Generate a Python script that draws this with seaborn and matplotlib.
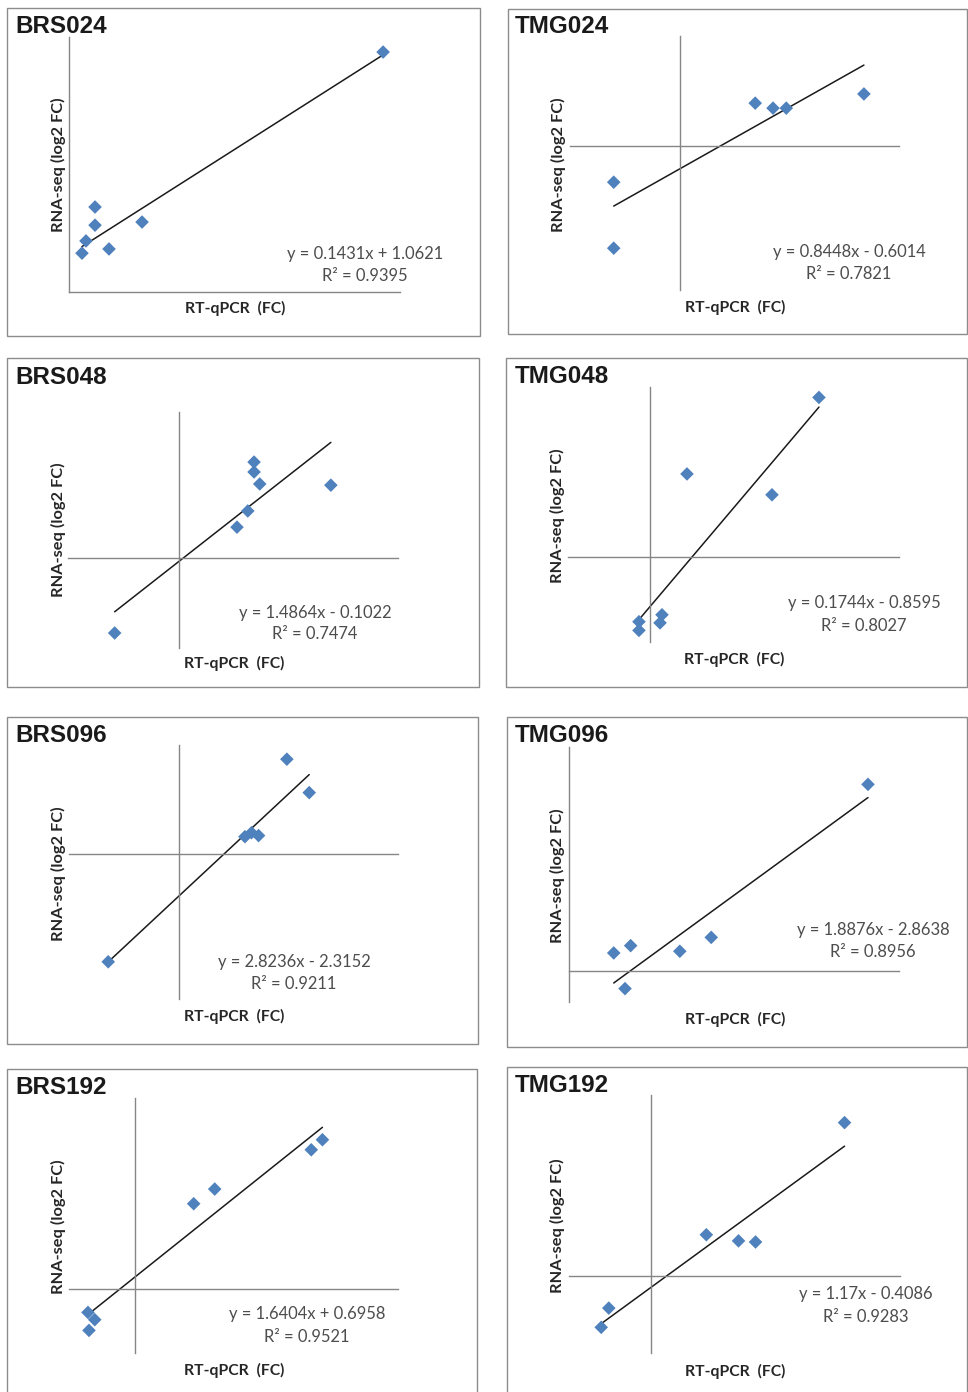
import matplotlib
matplotlib.use("Agg")
import matplotlib.pyplot as plt
from matplotlib.patches import Rectangle
import seaborn as sns

sns.set_theme(style="white")
plt.rcParams["font.family"] = ["Lato", "DejaVu Sans"]

# ---- data: RT-qPCR fold change vs RNA-seq log2 fold change ----
panel_names = ["BRS024", "TMG024", "BRS048", "TMG048",
               "BRS096", "TMG096", "BRS192", "TMG192"]

brs024_rtqpcr = [39.95, 3.31, 3.31, 2.16, 1.65, 5.09, 9.29]
brs024_rnaseq = [6.86, 2.43, 1.91, 1.46, 1.11, 1.23, 2.00]
tmg024_rtqpcr = [-1.15, -1.15, 1.31, 1.62, 1.85, 3.20]
tmg024_rnaseq = [-0.95, -2.67, 1.11, 0.98, 0.98, 1.35]
brs048_rtqpcr = [1.32, 1.32, 1.42, 2.67, 1.21, 1.02, -1.13]
brs048_rnaseq = [3.21, 2.88, 2.48, 2.44, 1.58, 1.04, -2.49]
tmg048_rtqpcr = [19.74, 4.32, 14.25, -1.29, -1.29, 1.40, 1.17]
tmg048_rnaseq = [2.75, 1.43, 1.07, -1.12, -1.27, -1.00, -1.14]
brs096_rtqpcr = [1.98, 2.39, 1.21, 1.33, 1.46, -1.30]
brs096_rnaseq = [5.29, 3.43, 0.98, 1.20, 1.04, -5.98]
tmg096_rtqpcr = [7.42, 1.11, 1.53, 2.75, 3.53, 1.39]
tmg096_rnaseq = [11.99, 1.16, 1.63, 1.27, 2.16, -1.13]
brs192_rtqpcr = [5.54, 5.21, 2.36, 1.74, -1.38, -1.18, -1.35]
brs192_rnaseq = [9.03, 8.42, 6.04, 5.15, -1.44, -1.88, -2.53]
tmg192_rtqpcr = [4.32, 1.23, 1.95, 2.33, -0.95, -1.12]
tmg192_rnaseq = [5.49, 1.47, 1.25, 1.21, -1.16, -1.85]

rtqpcr_values = [brs024_rtqpcr, tmg024_rtqpcr, brs048_rtqpcr, tmg048_rtqpcr,
                 brs096_rtqpcr, tmg096_rtqpcr, brs192_rtqpcr, tmg192_rtqpcr]
rnaseq_values = [brs024_rnaseq, tmg024_rnaseq, brs048_rnaseq, tmg048_rnaseq,
                 brs096_rnaseq, tmg096_rnaseq, brs192_rnaseq, tmg192_rnaseq]

# linear trend lines (slope, intercept, R^2)
slopes = [0.1431, 0.8448, 1.4864, 0.1744, 2.8236, 1.8876, 1.6404, 1.17]
intercepts = [1.0621, -0.6014, -0.1022, -0.8595, -2.3152, -2.8638, 0.6958, -0.4086]
r_squared = [0.9395, 0.7821, 0.7474, 0.8027, 0.9211, 0.8956, 0.9521, 0.9283]

# axis ranges
x_limits = [(0, 42.1), (-1.91, 3.81), (-1.95, 3.85), (-9.58, 29.09),
            (-2.02, 4.02), (0, 8.19), (-1.94, 7.77), (-1.84, 5.56)]
y_limits = [(0, 7.29), (-3.76, 2.86), (-2.99, 4.88), (-1.47, 2.93),
            (-8.05, 6.08), (-1.99, 14.39), (-3.90, 11.56), (-2.77, 6.48)]

# ---- layout (pixel units on a 968 x 1392 canvas) ----
W, H = 968, 1392
plot_areas = [(69, 400, 37, 292), (570, 899, 36, 290),
              (68, 398, 412, 648), (568, 899, 387, 642),
              (69, 398, 745, 999), (569, 899, 747, 1002),
              (69, 398, 1098, 1353), (569, 900, 1095, 1353)]
frames = [(7, 480, 8, 336), (508, 967, 9, 334),
          (7, 479, 358, 687), (506, 967, 358, 687),
          (7, 478, 717, 1044), (507, 967, 717, 1047),
          (7, 477, 1069, 1400), (507, 967, 1067, 1400)]
title_pos = [(15, 33), (515, 33), (15, 384), (515, 383),
             (15, 742), (515, 742), (15, 1094), (515, 1092)]
eq_pos = [(365, 254, 276), (849, 252, 274), (315, 613, 634), (864, 603, 626),
          (294, 962, 984), (873, 930, 952), (307, 1314, 1337), (866, 1294, 1317)]
xlabel_pos = [(235, 308), (735, 307), (234, 663), (734, 659),
              (234, 1016), (735, 1019), (234, 1370), (735, 1371)]
ylabel_pos = [(58, 165), (558, 165), (58, 530), (557, 516),
              (58, 874), (557, 876), (58, 1227), (557, 1226)]

MARKER_BLUE = "#4F81BD"
AXIS_GREY = "#868686"
TEXT_GREY = "#4D4D4D"


def fx(x):
    return x / W


def fy(y):
    return 1 - y / H


def fmt(v):
    return ("%.4f" % v).rstrip("0").rstrip(".")


fig = plt.figure(figsize=(W / 100, H / 100), dpi=100)
fig.patch.set_facecolor("white")

for i, name in enumerate(panel_names):
    # chart frame
    l, r, t, b = frames[i]
    fig.add_artist(Rectangle((fx(l), fy(b)), fx(r - l), (b - t) / H,
                             transform=fig.transFigure, fill=False,
                             edgecolor="#8C8C8C", linewidth=1.0))
    fig.text(fx(title_pos[i][0]), fy(title_pos[i][1]), name,
             family=["Liberation Sans", "DejaVu Sans"], fontweight="bold",
             fontsize=17.5, color="#1A1A1A", ha="left", va="baseline")

    x0, x1, y0, y1 = plot_areas[i]
    ax = fig.add_axes([fx(x0), fy(y1), fx(x1 - x0), (y1 - y0) / H])
    ax.set_facecolor("none")
    ax.set_xlim(*x_limits[i])
    ax.set_ylim(*y_limits[i])

    xs, ys = rtqpcr_values[i], rnaseq_values[i]
    m, c = slopes[i], intercepts[i]
    xa, xb = min(xs), max(xs)
    sns.lineplot(x=[xa, xb], y=[m * xa + c, m * xb + c], ax=ax,
                 color="#1A1A1A", linewidth=1.1, zorder=2)
    sns.scatterplot(x=xs, y=ys, ax=ax, marker="D", s=48,
                    color=MARKER_BLUE, edgecolor="none", zorder=3)

    # axes cross at zero, no ticks
    for side in ("top", "right"):
        ax.spines[side].set_visible(False)
    for side in ("left", "bottom"):
        ax.spines[side].set_position(("data", 0))
        ax.spines[side].set_color(AXIS_GREY)
        ax.spines[side].set_linewidth(1.0)
    ax.set_xticks([])
    ax.set_yticks([])

    ax.set_xlabel("RT-qPCR  (FC)", fontsize=11.3, fontweight="bold",
                  color="#262626")
    ax.xaxis.set_label_coords(fx(xlabel_pos[i][0]), fy(xlabel_pos[i][1]),
                              transform=fig.transFigure)
    ax.xaxis.label.set_va("center")
    ax.set_ylabel("RNA-seq (log2 FC)", fontsize=11.8, fontweight="bold",
                  color="#262626")
    ax.yaxis.set_label_coords(fx(ylabel_pos[i][0]), fy(ylabel_pos[i][1]),
                              transform=fig.transFigure)
    ax.yaxis.label.set_va("center")

    sign = "+" if c >= 0 else "-"
    ex, ey1, ey2 = eq_pos[i]
    fig.text(fx(ex), fy(ey1), f"y = {fmt(m)}x {sign} {fmt(abs(c))}",
             fontsize=11.9, color=TEXT_GREY, ha="center", va="center")
    fig.text(fx(ex), fy(ey2), f"R² = {r_squared[i]:.4f}",
             fontsize=11.9, color=TEXT_GREY, ha="center", va="center")

fig.savefig("out.png", dpi=100, facecolor="white")
